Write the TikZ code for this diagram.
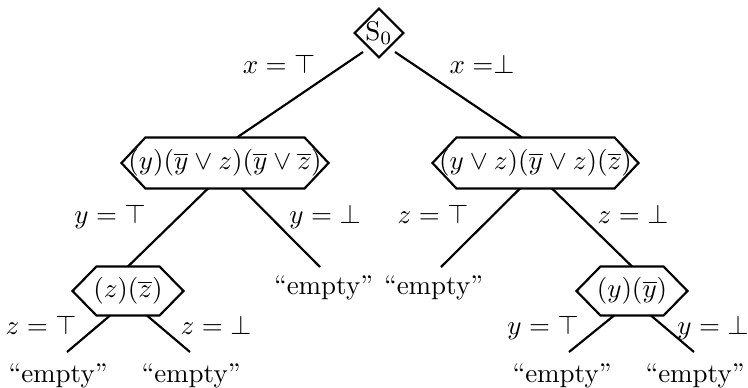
\documentclass[tikz,border=0pt]{standalone}
\usetikzlibrary{shapes.geometric,calc}
\newcommand\hexline[1]{\draw[edge] (#1.west) -- ($(#1.north west)+(24,0)$) -- ($(#1.north east)+(-24,0)$) -- (#1.east) -- ($(#1.south east)+(-24,0)$) -- ($(#1.south west)+(24,0)$) -- cycle;}
\begin{document}
\begin{tikzpicture}[x=0.37037pt,y=-0.37037pt,
  edge/.style={line width=0.8pt},
  dia/.style={diamond,draw,line width=0.8pt,minimum size=17.8pt,inner sep=0pt},
  hexbox/.style={rectangle,inner sep=0pt,minimum height=#1},
  lab/.style={anchor=base,inner sep=0pt},
  leaf/.style={anchor=base,inner sep=0pt}]
\useasboundingbox (0,0) rectangle (748,388);
% nodes
\node[dia] (s0) at (379,33) {$\mathrm{S}_0$};
\node[hexbox=18.5pt,minimum width=76.3pt] (L) at (225,163) {$(y)(\overline{y}\vee z)(\overline{y}\vee\overline{z})$};
\node[hexbox=18.5pt,minimum width=75.9pt] (R) at (535.5,163) {$(y\vee z)(\overline{y}\vee z)(\overline{z})$};
\node[hexbox=17.8pt,minimum width=40.7pt] (LL) at (128,291) {$(z)(\overline{z})$};
\node[hexbox=17.8pt,minimum width=40.7pt] (RR) at (632,291) {$(y)(\overline{y})$};
\hexline{L}
\hexline{R}
\hexline{LL}
\hexline{RR}
% leaves
\node[leaf] (E2m) at (323.5,294) {“empty”};
\node[leaf] (E3m) at (433.5,294) {“empty”};
\node[leaf] (E1) at (58,382) {“empty”};
\node[leaf] (E2) at (191,382) {“empty”};
\node[leaf] (E3) at (562,382) {“empty”};
\node[leaf] (E4) at (695,382) {“empty”};
% edge labels
\node[lab] (lx1) at (279,73) {$x = \top$};
\node[lab] (lx2) at (482,73) {$x =\perp$};
\node[lab] (ly1) at (110,223) {$y = \top$};
\node[lab] (ly2) at (325,223) {$y = \bot$};
\node[lab] (lz1) at (433,223) {$z = \top$};
\node[lab] (lz2) at (633,223) {$z = \bot$};
\node[lab] (lz3) at (41,334) {$z = \top$};
\node[lab] (lz4) at (216,334) {$z = \bot$};
\node[lab] (ly3) at (543,334) {$y = \top$};
\node[lab] (ly4) at (713,334) {$y = \bot$};
% edges
\draw[edge] ($(s0)+(-16,19)$) -- ($(L.north)+(12,0)$);
\draw[edge] ($(s0)+(16,19)$) -- ($(R.north)+(-13.5,0)$);
\draw[edge] ($(L.south)+(-17,0)$) -- (LL.north);
\draw[edge] ($(L.south)+(17,0)$) -- ($(E2m.base)+(-3.5,-27)$);
\draw[edge] ($(R.south)+(-15.5,0)$) -- ($(E3m.base)+(7.5,-27)$);
\draw[edge] ($(R.south)+(16.5,0)$) -- (RR.north);
\draw[edge] ($(LL.south)+(-18,0)$) -- ($(E1.base)+(9,-30)$);
\draw[edge] ($(LL.south)+(19,0)$) -- ($(E2.base)+(-1,-30)$);
\draw[edge] ($(RR.south)+(-18,0)$) -- ($(E3.base)+(7,-30)$);
\draw[edge] ($(RR.south)+(19,0)$) -- ($(E4.base)+(-1,-30)$);
\end{tikzpicture}
\end{document}
